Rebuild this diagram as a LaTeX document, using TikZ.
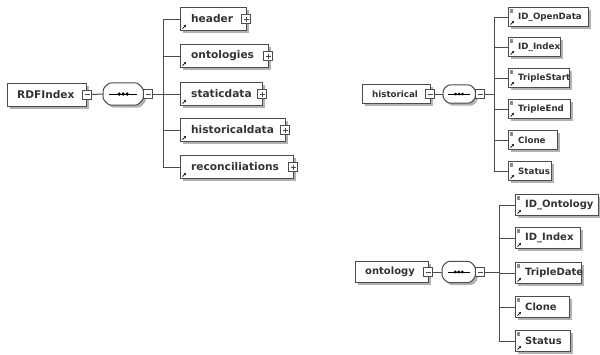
\documentclass[tikz,border=0pt]{standalone}
\usepackage{fontspec}
\setmainfont{DejaVu Sans}
\usetikzlibrary{shadows,arrows.meta}
\newcommand\myocta[2]{%
  \draw[octstyle] ([xshift=#2]#1.north west) -- ([xshift=-#2]#1.north east) -- ([yshift=-#2]#1.north east)
    -- ([yshift=#2]#1.south east) -- ([xshift=-#2]#1.south east) -- ([xshift=#2]#1.south west)
    -- ([yshift=#2]#1.south west) -- ([yshift=-#2]#1.north west) -- cycle;}
\begin{document}
\begin{tikzpicture}[x=1pt,y=-1pt,
  elem/.style={draw=black!70, line width=1pt, fill=white, rectangle, inner sep=0pt, anchor=west,
    drop shadow={shadow xshift=2.5pt, shadow yshift=-2.5pt, fill=black!30, opacity=1}},
  seqbox/.style={rectangle, inner sep=0pt, anchor=west},
  octstyle/.style={draw=black!70, line width=1pt, fill=white, rounded corners=2.5pt,
    drop shadow={shadow xshift=2.5pt, shadow yshift=-2.5pt, fill=black!30, opacity=1}},
  lblA/.style={anchor=west, inner sep=0pt, font=\bfseries\fontsize{10.6}{12}\selectfont, text=black!80},
  lblB/.style={anchor=west, inner sep=0pt, font=\bfseries\fontsize{8.7}{10}\selectfont, text=black!80},
  lblC/.style={anchor=west, inner sep=0pt, font=\bfseries\fontsize{10}{12}\selectfont, text=black!80},
  sq/.style={draw=black!70, fill=white, minimum size=9pt, inner sep=0pt, line width=0.7pt},
  minusbox/.style={sq, path picture={\draw[line width=0.7pt] ([xshift=2pt]path picture bounding box.west) -- ([xshift=-2pt]path picture bounding box.east);}},
  plusbox/.style={sq, path picture={\draw[line width=0.7pt] ([xshift=2pt]path picture bounding box.west) -- ([xshift=-2pt]path picture bounding box.east) ([yshift=-2pt]path picture bounding box.north) -- ([yshift=2pt]path picture bounding box.south);}},
  conn/.style={draw=black!70, line width=1pt},
  refarrow/.style={line width=0.7pt, -{Stealth[length=2.2pt,width=2.2pt]}},
]
\useasboundingbox (0,0) rectangle (600,354);
\fill[white] (0,0) rectangle (600,354);

% ---------------- Left diagram: RDFIndex ----------------
\node[elem, minimum width=79, minimum height=23] (rdf) at (7,94.5) {};
\node[lblA] (rdfT) at ([xshift=10pt]rdf.west) {RDFIndex};
\node[minusbox] (rdfM) at (rdf.east) {};
\node[seqbox, minimum width=40, minimum height=22] (seqA) at (103,94) {};
\myocta{seqA}{6pt}
\node[minusbox, anchor=west] (seqAM) at (seqA.east) {};
\draw[conn] (rdfM.east) -- (seqA.west);
\draw[line width=0.8pt] ([xshift=-14pt]seqA.center) -- ([xshift=14pt]seqA.center);
\foreach \dx in {-4,0,4} \fill ([xshift=\dx pt]seqA.center) circle (1.8pt);
\coordinate (busA) at (163,0);

\node[elem, minimum width=66, minimum height=23] (header) at (180,19) {};
\node[elem, minimum width=88, minimum height=23] (ontologies) at (180,56) {};
\node[elem, minimum width=82, minimum height=23] (staticdata) at (180,94) {};
\node[elem, minimum width=105, minimum height=23] (historicaldata) at (180,130) {};
\node[elem, minimum width=113, minimum height=23] (reconciliations) at (180,167) {};
\node[lblA] (headerT) at ([xshift=11pt]header.west) {header};
\node[lblA] (ontologiesT) at ([xshift=11pt]ontologies.west) {ontologies};
\node[lblA] (staticdataT) at ([xshift=11pt]staticdata.west) {staticdata};
\node[lblA] (historicaldataT) at ([xshift=11pt]historicaldata.west) {historicaldata};
\node[lblA] (reconciliationsT) at ([xshift=11pt]reconciliations.west) {reconciliations};
\foreach \n in {header,ontologies,staticdata,historicaldata,reconciliations}{
  \node[plusbox] (\n P) at ([xshift=-1pt]\n.east) {};
  \draw[refarrow] ([xshift=2.5pt,yshift=2.5pt]\n.south west) -- ++(3.5,-3.5);
  \draw[conn] (\n.west) -- (\n.west -| busA);
}
\draw[conn] (header.west -| busA) -- (reconciliations.west -| busA);
\draw[conn] (seqAM.east) -- (seqAM.east -| busA);

% ---------------- Top right: historical ----------------
\node[elem, minimum width=68, minimum height=19] (hist) at (362,94) {};
\node[lblB] (histT) at ([xshift=10pt]hist.west) {historical};
\node[minusbox] (histM) at ([xshift=-1pt]hist.east) {};
\node[seqbox, minimum width=32, minimum height=18] (seqB) at (443,94) {};
\myocta{seqB}{5pt}
\node[minusbox, anchor=west] (seqBM) at (seqB.east) {};
\draw[conn] (histM.east) -- (seqB.west);
\draw[line width=0.8pt] ([xshift=-11pt]seqB.center) -- ([xshift=11pt]seqB.center);
\foreach \dx in {-3.5,0,3.5} \fill ([xshift=\dx pt]seqB.center) circle (1.5pt);
\coordinate (busB) at (494,0);

\node[elem, minimum width=80, minimum height=19] (hOpen) at (508,17) {};
\node[elem, minimum width=52, minimum height=19] (hIndex) at (508,47) {};
\node[elem, minimum width=61, minimum height=19] (hStart) at (508,78) {};
\node[elem, minimum width=62, minimum height=19] (hEnd) at (508,109) {};
\node[elem, minimum width=49, minimum height=19] (hClone) at (508,140) {};
\node[elem, minimum width=43, minimum height=19] (hStatus) at (508,171) {};
\node[lblB] (hOpenT) at ([xshift=10pt]hOpen.west) {ID\_OpenData};
\node[lblB] (hIndexT) at ([xshift=10pt]hIndex.west) {ID\_Index};
\node[lblB] (hStartT) at ([xshift=10pt]hStart.west) {TripleStart};
\node[lblB] (hEndT) at ([xshift=10pt]hEnd.west) {TripleEnd};
\node[lblB] (hCloneT) at ([xshift=10pt]hClone.west) {Clone};
\node[lblB] (hStatusT) at ([xshift=10pt]hStatus.west) {Status};
\foreach \n in {hOpen,hIndex,hStart,hEnd,hClone,hStatus}{
  \fill[black!45] ([xshift=1.5pt,yshift=-1.5pt]\n.north west) rectangle ++(3.5,4.5);
  \draw[refarrow] ([xshift=2.5pt,yshift=2.5pt]\n.south west) -- ++(3.5,-3.5);
  \draw[conn] (\n.west) -- (\n.west -| busB);
}
\draw[conn] (hOpen.west -| busB) -- (hStatus.west -| busB);
\draw[conn] (seqBM.east) -- (seqBM.east -| busB);

% ---------------- Bottom right: ontology ----------------
\node[elem, minimum width=73, minimum height=21] (onto) at (355,272) {};
\node[lblC] (ontoT) at ([xshift=10pt]onto.west) {ontology};
\node[minusbox] (ontoM) at ([xshift=-1pt]onto.east) {};
\node[seqbox, minimum width=33, minimum height=21] (seqC) at (442,272) {};
\myocta{seqC}{5.5pt}
\node[minusbox, anchor=west] (seqCM) at (seqC.east) {};
\draw[conn] (ontoM.east) -- (seqC.west);
\draw[line width=0.8pt] ([xshift=-11pt]seqC.center) -- ([xshift=11pt]seqC.center);
\foreach \dx in {-3.5,0,3.5} \fill ([xshift=\dx pt]seqC.center) circle (1.6pt);
\coordinate (busC) at (499,0);

\node[elem, minimum width=83, minimum height=21] (oOnto) at (515,205) {};
\node[elem, minimum width=65, minimum height=21] (oIndex) at (515,238) {};
\node[elem, minimum width=66, minimum height=21] (oDate) at (515,273) {};
\node[elem, minimum width=54, minimum height=21] (oClone) at (515,307) {};
\node[elem, minimum width=55, minimum height=21] (oStatus) at (515,341) {};
\node[lblC] (oOntoT) at ([xshift=10pt]oOnto.west) {ID\_Ontology};
\node[lblC] (oIndexT) at ([xshift=10pt]oIndex.west) {ID\_Index};
\node[lblC] (oDateT) at ([xshift=10pt]oDate.west) {TripleDate};
\node[lblC] (oCloneT) at ([xshift=10pt]oClone.west) {Clone};
\node[lblC] (oStatusT) at ([xshift=10pt]oStatus.west) {Status};
\foreach \n in {oOnto,oIndex,oDate,oClone,oStatus}{
  \fill[black!45] ([xshift=1.5pt,yshift=-1.5pt]\n.north west) rectangle ++(3.5,4.5);
  \draw[refarrow] ([xshift=2.5pt,yshift=2.5pt]\n.south west) -- ++(3.5,-3.5);
  \draw[conn] (\n.west) -- (\n.west -| busC);
}
\draw[conn] (oOnto.west -| busC) -- (oStatus.west -| busC);
\draw[conn] (seqCM.east) -- (seqCM.east -| busC);
\end{tikzpicture}
\end{document}
